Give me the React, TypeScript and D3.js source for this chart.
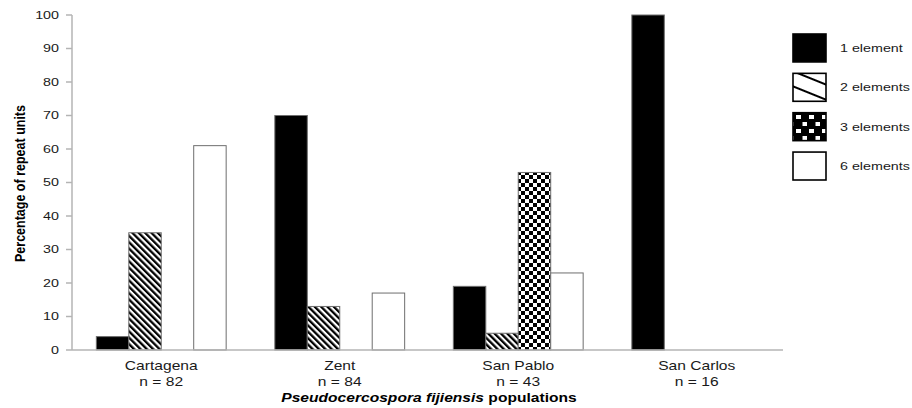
import React from 'react';
import * as d3 from 'd3';

const WIDTH = 912;
const HEIGHT = 408;
const MARGIN = { top: 15, right: 126, bottom: 58, left: 72 };

const populations = ['Cartagena', 'Zent', 'San Pablo', 'San Carlos'];
const sampleSizes = ['n = 82', 'n = 84', 'n = 43', 'n = 16'];
const seriesKeys = ['1 element', '2 elements', '3 elements', '6 elements'];

// percentage of repeat units, one array per series
const oneElement = [4, 70, 19, 100];
const twoElements = [35, 13, 5, 0];
const threeElements = [0, 0, 53, 0];
const sixElements = [61, 17, 23, 0];

const yTicks = [0, 10, 20, 30, 40, 50, 60, 70, 80, 90, 100];

const FONT = '"Liberation Sans", Arial, sans-serif';
const STRETCH = 1.3; // the source picture is widened horizontally

const barFill = ['#000', 'url(#hatch)', 'url(#checker)', '#fff'];
const legendFill = ['#000', 'url(#hatch-big)', 'url(#checker-big)', '#fff'];

const App = () => {
  const series = [oneElement, twoElements, threeElements, sixElements];
  const width = WIDTH - MARGIN.left - MARGIN.right;
  const height = HEIGHT - MARGIN.top - MARGIN.bottom;

  const x0 = d3.scaleBand<string>().domain(populations).range([0, width]).padding(0);
  const x1 = d3
    .scaleBand<string>()
    .domain(seriesKeys)
    .range([0, x0.bandwidth()])
    .paddingInner(0)
    .paddingOuter(0.75);
  const y = d3.scaleLinear().domain([0, 100]).range([height, 0]);

  const legendY = d3.scaleBand<string>().domain(seriesKeys).range([34, 180]).paddingInner(0.29);

  return (
    <svg
      width={WIDTH}
      height={HEIGHT}
      style={{ position: 'absolute', left: 0, top: 0, background: '#fff' }}
      fontFamily={FONT}
    >
      <defs>
        <pattern id="hatch" width={4.5} height={4.5} patternUnits="userSpaceOnUse" patternTransform="rotate(-45)">
          <rect width={4.5} height={4.5} fill="#fff" />
          <rect width={2.3} height={4.5} fill="#000" />
        </pattern>
        <pattern id="checker" width={8} height={8} patternUnits="userSpaceOnUse">
          <rect width={8} height={8} fill="#000" />
          <rect width={4} height={4} fill="#fff" />
          <rect x={4} y={4} width={4} height={4} fill="#fff" />
        </pattern>
        <pattern id="hatch-big" width={14} height={14} patternUnits="userSpaceOnUse" patternTransform="rotate(22)">
          <rect width={14} height={14} fill="#fff" />
          <rect y={6} width={14} height={2} fill="#000" />
        </pattern>
        <pattern id="checker-big" width={13} height={14} patternUnits="userSpaceOnUse" x={794} y={113}>
          <rect width={13} height={14} fill="#000" />
          <rect x={2} y={2} width={5} height={4} fill="#fff" />
          <rect x={8.5} y={9} width={5} height={4} fill="#fff" />
        </pattern>
      </defs>

      <g transform={`translate(${MARGIN.left}, ${MARGIN.top})`}>
        {/* bars */}
        {populations.map((pop, i) => (
          <g key={pop} transform={`translate(${x0(pop)}, 0)`}>
            {seriesKeys.map((key, k) => {
              const v = series[k][i];
              if (!v) return null;
              return (
                <rect
                  key={key}
                  x={x1(key)}
                  y={y(v)}
                  width={x1.bandwidth()}
                  height={height - y(v)}
                  fill={barFill[k]}
                  stroke="#6e6e6e"
                  strokeWidth={1}
                />
              );
            })}
          </g>
        ))}

        {/* y axis */}
        <line x1={0} x2={0} y1={y(100)} y2={height} stroke="#b4b4b4" strokeWidth={1.5} />
        {yTicks.map((t) => (
          <g key={t} transform={`translate(0, ${y(t)})`}>
            <line x1={-6} x2={0} stroke="#b4b4b4" strokeWidth={1.5} />
            <text
              transform={`translate(-13, 0) scale(${STRETCH}, 1)`}
              dy="0.36em"
              textAnchor="end"
              fontSize={11}
              fill="#1a1a1a"
            >
              {t}
            </text>
          </g>
        ))}

        {/* x axis */}
        <line x1={0} x2={width - 3} y1={height} y2={height} stroke="#b4b4b4" strokeWidth={1.5} />
        {populations.map((pop, i) => {
          const cx = (x0(pop) ?? 0) + x0.bandwidth() / 2;
          return (
            <g key={pop} fontSize={12} fill="#1a1a1a">
              <text transform={`translate(${cx}, ${height + 20}) scale(${STRETCH}, 1)`} textAnchor="middle">
                {pop}
              </text>
              <text transform={`translate(${cx}, ${height + 36}) scale(${STRETCH}, 1)`} textAnchor="middle">
                {sampleSizes[i]}
              </text>
            </g>
          );
        })}

        <text
          transform={`translate(${width / 2}, ${height + 52}) scale(${STRETCH}, 1)`}
          textAnchor="middle"
          fontSize={12}
          fontWeight="bold"
          fill="#000"
        >
          <tspan fontStyle="italic">Pseudocercospora fijiensis</tspan> populations
        </text>
      </g>

      {/* y title */}
      <text
        transform={`translate(25, ${MARGIN.top + height / 2 + 1}) rotate(-90) scale(1, 1.15)`}
        textAnchor="middle"
        fontSize={12.5}
        fontWeight="bold"
        fill="#000"
      >
        Percentage of repeat units
      </text>

      {/* legend */}
      <g>
        {seriesKeys.map((key, k) => {
          const ly = legendY(key) ?? 0;
          return (
            <g key={key}>
              <rect x={793} y={ly} width={33} height={legendY.bandwidth()} fill={legendFill[k]} stroke="#000" strokeWidth={1.6} />
              <text
                transform={`translate(840, ${ly + legendY.bandwidth() / 2}) scale(${STRETCH}, 1)`}
                dy="0.35em"
                fontSize={11}
                fill="#1a1a1a"
              >
                {key}
              </text>
            </g>
          );
        })}
      </g>
    </svg>
  );
};

export default App;
